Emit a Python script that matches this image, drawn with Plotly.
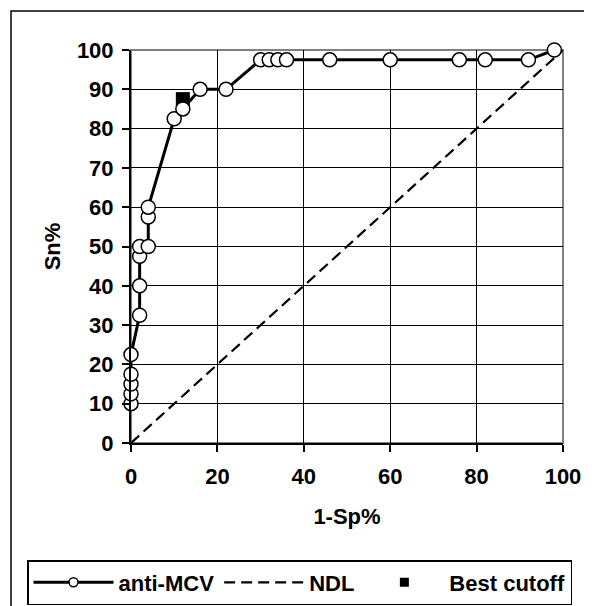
import plotly.graph_objects as go

# anti-MCV ROC curve (1-Sp%, Sn%)
roc_fpr = [0, 0, 0, 0, 0, 2, 2, 2, 2, 4, 4, 4, 10, 12, 16, 22, 30, 32, 34, 36, 46, 60, 76, 82, 92, 98]
roc_sens = [10, 12.5, 15, 17.5, 22.5, 32.5, 40, 47.5, 50, 50, 57.5, 60, 82.5, 85, 90, 90,
            97.5, 97.5, 97.5, 97.5, 97.5, 97.5, 97.5, 97.5, 97.5, 100]
# non-discrimination line
ndl_x = [0, 100]
ndl_y = [0, 100]
# best cutoff
best_x = [12]
best_y = [87.5]

x_ticks = [0, 20, 40, 60, 80, 100]
y_ticks = [0, 10, 20, 30, 40, 50, 60, 70, 80, 90, 100]

FONT = "Liberation Sans, Arial, sans-serif"
OFF = 8  # page body margin
W, H = 584, 598
L, R, T, B = 123, 29, 42, 163
pw, ph = W - L - R, H - T - B

def px2x(p):
    return (p - OFF - L) / pw

def py2y(p):
    return (H - B - (p - OFF)) / ph

fig = go.Figure()
fig.add_trace(go.Scatter(x=ndl_x, y=ndl_y, mode="lines",
                         line=dict(color="black", width=2.2, dash="11px,6px"),
                         showlegend=False, cliponaxis=False))
fig.add_trace(go.Scatter(x=best_x, y=best_y, mode="markers",
                         marker=dict(symbol="square", size=14, color="black"),
                         showlegend=False, cliponaxis=False))
fig.add_trace(go.Scatter(x=roc_fpr, y=roc_sens, mode="lines+markers",
                         line=dict(color="black", width=3),
                         marker=dict(symbol="circle", size=14, color="white",
                                     line=dict(color="black", width=1.5)),
                         showlegend=False, cliponaxis=False))
# legend entries
fig.add_trace(go.Scatter(x=[None], y=[None], mode="lines+markers", name="anti-MCV",
                         line=dict(color="black", width=3),
                         marker=dict(symbol="circle", size=9, color="white",
                                     line=dict(color="black", width=1.5))))
fig.add_trace(go.Scatter(x=[None], y=[None], mode="lines", name="NDL",
                         line=dict(color="black", width=2.2, dash="11px,6px")))
fig.add_trace(go.Scatter(x=[None], y=[None], mode="markers", name="Best cutoff",
                         marker=dict(symbol="square", size=9, color="black")))

axis_common = dict(
    showline=True, linecolor="black", linewidth=2,
    ticks="outside", ticklen=7, tickwidth=2, tickcolor="black",
    showgrid=True, gridcolor="black", gridwidth=1.3,
    zeroline=False, mirror=False,
    tickfont=dict(family=FONT, size=22, color="black", weight="bold"),
)
fig.update_xaxes(range=[0, 100], tickvals=x_ticks, ticklabelstandoff=6, **axis_common,
                 title=dict(text="1-Sp%", standoff=20,
                            font=dict(family=FONT, size=22, color="black", weight="bold")))
fig.update_yaxes(range=[0, 100], tickvals=y_ticks, ticklabelstandoff=4, **axis_common,
                 title=dict(text="Sn%", standoff=10,
                            font=dict(family=FONT, size=22, color="black", weight="bold")))

shapes = [
    # gray plot-area border
    dict(type="rect", xref="paper", yref="paper", x0=0, y0=0, x1=1, y1=1,
         line=dict(color="#808080", width=2), layer="between"),
    # outer chart border
    dict(type="rect", xref="paper", yref="paper",
         x0=px2x(11), y0=py2y(11), x1=px2x(640), y1=py2y(660),
         line=dict(color="black", width=1.5), layer="below"),
]

fig.update_layout(
    width=W, height=H,
    margin=dict(l=L, r=R, t=T, b=B, autoexpand=False),
    paper_bgcolor="white", plot_bgcolor="white",
    shapes=shapes,
    showlegend=True,
    legend=dict(orientation="h", x=px2x(27), y=py2y(560), xanchor="left", yanchor="top",
                bordercolor="black", borderwidth=1.5, bgcolor="white",
                itemwidth=80, tracegroupgap=0,
                font=dict(family=FONT, size=22, color="black", weight="bold")),
)

fig.write_html("out.html")
